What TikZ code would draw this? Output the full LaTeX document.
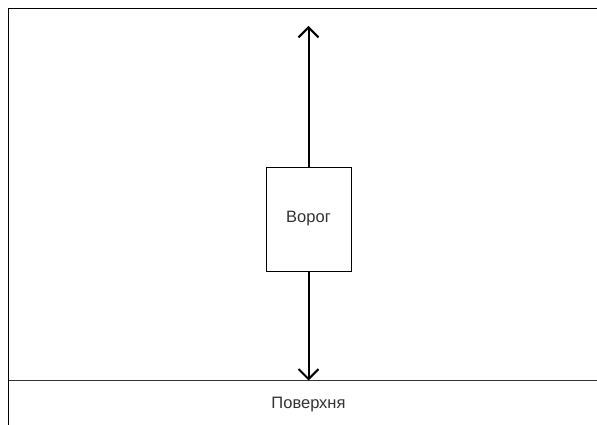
\documentclass[tikz,border=0pt]{standalone}
\usepackage{fontspec}
\setmainfont{Liberation Sans}
\usetikzlibrary{arrows.meta}
\begin{document}
\begin{tikzpicture}[x=1pt,y=1pt,
  frameline/.style={line width=1pt,black},
  forceline/.style={line width=2pt,black,-{Straight Barb[length=10pt,width=20pt,line width=2pt]}},
  enemybox/.style={draw,line width=0.8pt,minimum width=85pt,minimum height=104pt,inner sep=0pt,font=\fontsize{16.5}{19}\selectfont,text=black!80},
  lbl/.style={font=\fontsize{16.5}{19}\selectfont,text=black!80}]
\useasboundingbox (0,0) rectangle (597,425);
% frame
\coordinate (tl) at (8.5,416);
\coordinate (tr) at (597,416);
\coordinate (bl) at (8.5,0);
\coordinate (gl) at (8.5,44.5);
\coordinate (gr) at (597,44.5);
\draw[frameline] (tr) -- (tl) -- (bl);
\draw[line width=0.9pt,black!80] (gl) -- (gr);
% enemy
\node[enemybox] (enemy) at (308.5,206) {Ворог};
\coordinate (up) at (308.5,399);
\coordinate (down) at (308.5,44.5);
\draw[forceline] (enemy.north) -- (up);
\draw[forceline] (enemy.south) -- (down);
\node[lbl] (surf) at (308.5,20) {Поверхня};
\end{tikzpicture}
\end{document}
